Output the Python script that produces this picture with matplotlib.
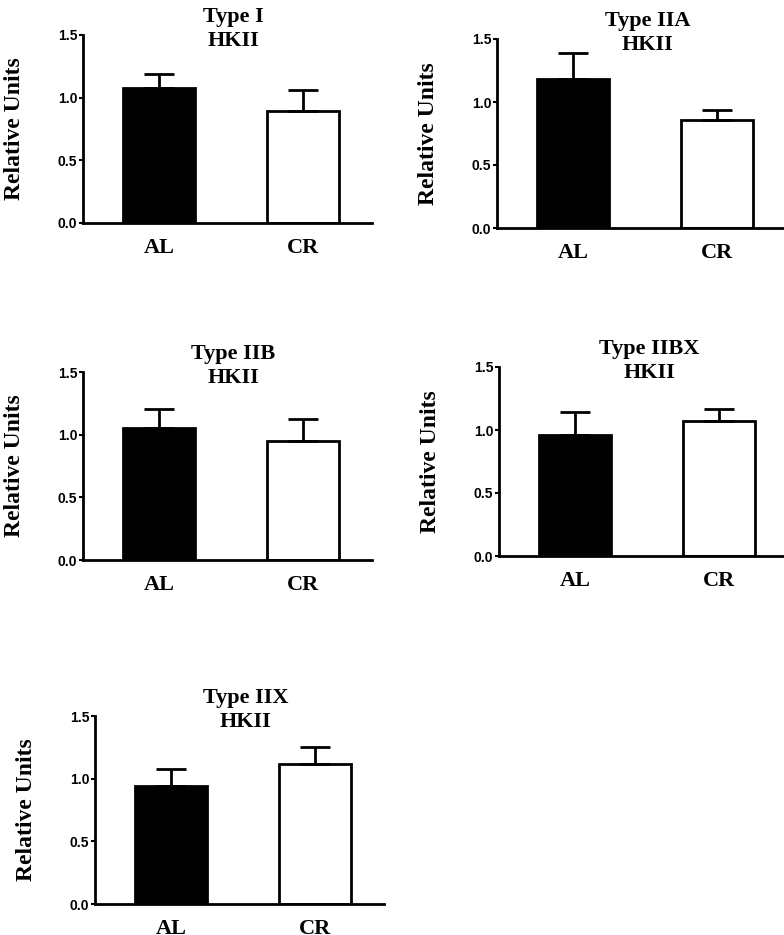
import matplotlib
matplotlib.use("Agg")
import matplotlib.pyplot as plt

# data
groups = ["AL", "CR"]
titles = ["Type I\nHKII", "Type IIA\nHKII", "Type IIB\nHKII", "Type IIBX\nHKII", "Type IIX\nHKII"]
means = [
    [1.075, 0.895],
    [1.18, 0.86],
    [1.055, 0.95],
    [0.96, 1.07],
    [0.945, 1.12],
]
sems = [
    [0.11, 0.17],
    [0.21, 0.08],
    [0.15, 0.175],
    [0.185, 0.10],
    [0.135, 0.13],
]
yticks = [0.0, 0.5, 1.0, 1.5]
ylabel = "Relative Units"

W, H = 784, 935
# axes boxes in pixels: left, top, bottom
boxes = [(83, 35, 223), (497, 39, 228), (83, 372, 560), (499, 367, 556), (95, 716, 904)]
ax_w = 289

fig = plt.figure(figsize=(W / 100, H / 100), dpi=100)
serif = "Liberation Serif"
sans = "Liberation Sans"

for i, (l, t, b) in enumerate(boxes):
    ax = fig.add_axes([l / W, 1 - b / H, ax_w / W, (b - t) / H])
    ax.bar([0, 1], means[i], width=0.5, color=["black", "white"],
           edgecolor="black", linewidth=2)
    for j in range(2):
        ax.errorbar(j, means[i][j], yerr=[[0], [sems[i][j]]], color="black",
                    elinewidth=2, capsize=10.5, capthick=2, fmt="none")
    ax.set_xlim(-0.53, 1.48)
    ax.set_ylim(0, 1.5)
    ax.set_yticks(yticks)
    ax.set_yticklabels([f"{v:.1f}" for v in yticks], fontfamily=sans,
                       fontweight="bold", fontsize=10)
    ax.set_xticks([0, 1])
    ax.set_xticklabels(groups, fontfamily=serif, fontweight="bold", fontsize=16)
    ax.tick_params(axis="x", length=0, pad=11)
    ax.tick_params(axis="y", length=3, width=1.5, pad=1)
    for s in ["top", "right"]:
        ax.spines[s].set_visible(False)
    for s in ["left", "bottom"]:
        ax.spines[s].set_linewidth(2)
    ax.set_ylabel(ylabel, fontfamily=serif, fontweight="bold", fontsize=17)
    ax.yaxis.set_label_coords(-58 / ax_w, 0.5)
    ax.text(0.52, 1.15, titles[i], transform=ax.transAxes, ha="center", va="top",
            fontfamily=serif, fontweight="bold", fontsize=16, linespacing=1.3)

fig.savefig("out.png", dpi=100)
